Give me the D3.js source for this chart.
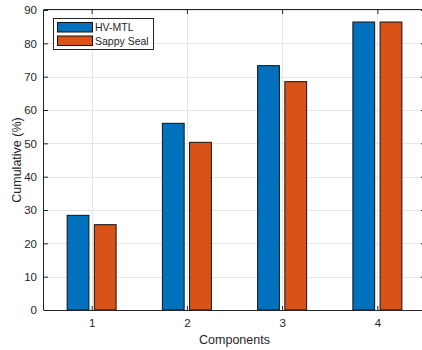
<!DOCTYPE html>
<html><head><meta charset="utf-8">
<script src="https://cdn.jsdelivr.net/npm/d3@7"></script>
<style>body{margin:0;background:#fff;} svg{display:block;font-family:"Liberation Sans",Arial,Helvetica,sans-serif;}</style>
</head><body>
<svg id="c" width="422" height="350"></svg>
<script>
const categories = [1, 2, 3, 4];
const seriesNames = ["HV-MTL", "Sappy Seal"];
const hvmtl = [28.4, 56.0, 73.3, 86.4];
const sappySeal = [25.6, 50.3, 68.5, 86.4];
const yTicks = [0, 10, 20, 30, 40, 50, 60, 70, 80, 90];
const colors = ["#0072BD", "#D95319"];

const svg = d3.select("#c");
const L = 44, R = 425, T = 10, B = 310;
const x = d3.scaleLinear().domain([0.5, 4.5]).range([L, R]);
const y = d3.scaleLinear().domain([0, 90]).range([B, T]);
const axisColor = "#262626";

// grid
const g = svg.append("g");
g.selectAll("line.gx").data(categories).enter().append("line")
  .attr("x1", d => Math.round(x(d)) + 0.5).attr("x2", d => Math.round(x(d)) + 0.5)
  .attr("y1", T).attr("y2", B).attr("stroke", "#e6e6e6").attr("stroke-width", 1);
g.selectAll("line.gy").data(yTicks).enter().append("line")
  .attr("y1", d => Math.round(y(d)) + 0.5).attr("y2", d => Math.round(y(d)) + 0.5)
  .attr("x1", L).attr("x2", R).attr("stroke", "#e6e6e6").attr("stroke-width", 1);

// bars
const series = [hvmtl, sappySeal];
const groupW = 2 / 3.5;
const barW = groupW / 2 * 0.8;
const offsets = [-groupW / 4, groupW / 4];
series.forEach((vals, si) => {
  svg.append("g").selectAll("rect").data(vals).enter().append("rect")
    .attr("x", (d, i) => x(categories[i] + offsets[si] - barW / 2))
    .attr("width", x(barW) - x(0))
    .attr("y", d => y(d))
    .attr("height", d => y(0) - y(d))
    .attr("fill", colors[si])
    .attr("stroke", "#111").attr("stroke-width", 1);
});

// axes
const ax = svg.append("g");
ax.append("line").attr("x1", L).attr("x2", R).attr("y1", B + 0.5).attr("y2", B + 0.5).attr("stroke", axisColor);
ax.append("line").attr("x1", L).attr("x2", R).attr("y1", T - 0.5).attr("y2", T - 0.5).attr("stroke", axisColor);
ax.append("line").attr("x1", L - 0.5).attr("x2", L - 0.5).attr("y1", T - 0.5).attr("y2", B + 0.5).attr("stroke", axisColor);
ax.append("line").attr("x1", R - 0.5).attr("x2", R - 0.5).attr("y1", T - 0.5).attr("y2", B + 0.5).attr("stroke", axisColor);

const xAxis = d3.axisBottom(x).tickValues(categories).tickSize(-4).tickPadding(9).tickFormat(d3.format("d"));
const xg = svg.append("g").attr("transform", `translate(0,${B})`).call(xAxis);
const xTop = d3.axisTop(x).tickValues(categories).tickSize(-4).tickFormat("");
const xtg = svg.append("g").attr("transform", `translate(0,${T})`).call(xTop);
const yAxis = d3.axisLeft(y).tickValues(yTicks).tickSize(-4).tickPadding(7).tickFormat(d3.format("d"));
const yg = svg.append("g").attr("transform", `translate(${L},0)`).call(yAxis);
const yRight = d3.axisRight(y).tickValues(yTicks).tickSize(-4).tickFormat("");
const yrg = svg.append("g").attr("transform", `translate(${R},0)`).call(yRight);
[xg, xtg, yg, yrg].forEach(a => {
  a.select(".domain").remove();
  a.selectAll(".tick line").attr("stroke", axisColor);
  a.selectAll(".tick text").attr("fill", axisColor).attr("font-size", 11.5).attr("font-family", "Liberation Sans, Arial, sans-serif");
});

// labels
svg.append("text").attr("x", (L + R) / 2).attr("y", 344).attr("text-anchor", "middle")
  .attr("font-size", 12.5).attr("fill", axisColor).text("Components");
svg.append("text").attr("transform", `translate(21,${(T + B) / 2}) rotate(-90)`).attr("text-anchor", "middle")
  .attr("font-size", 12.5).attr("fill", axisColor).text("Cumulative (%)");

// legend
const lg = svg.append("g");
lg.append("rect").attr("x", 53.5).attr("y", 18.5).attr("width", 100).attr("height", 31)
  .attr("fill", "#fff").attr("stroke", axisColor).attr("stroke-width", 1);
seriesNames.forEach((n, i) => {
  lg.append("rect").attr("x", 57.5).attr("y", 22.5 + i * 13.5).attr("width", 35).attr("height", 9.5)
    .attr("fill", colors[i]).attr("stroke", "#111");
  lg.append("text").attr("x", 95).attr("y", 31 + i * 13.5).attr("font-size", 10.5).attr("fill", axisColor).text(n);
});
</script>
</body></html>
